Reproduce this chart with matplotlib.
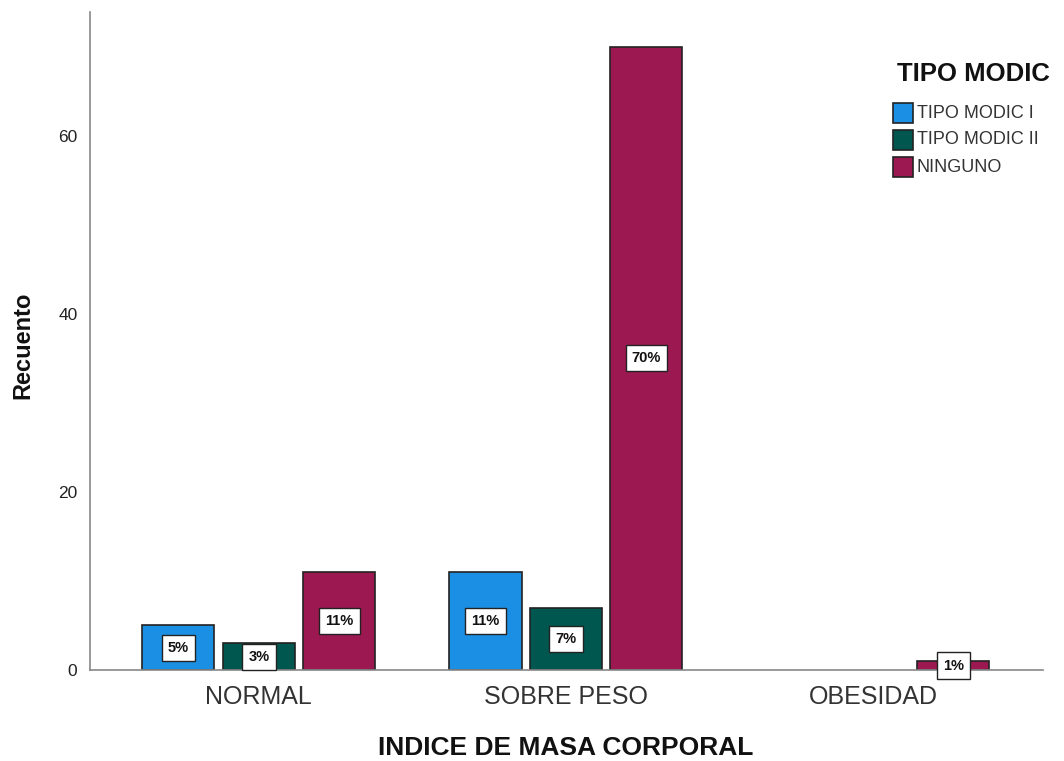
import matplotlib
matplotlib.use("Agg")
import matplotlib.pyplot as plt
import numpy as np
from matplotlib.patches import Rectangle

plt.rcParams['font.family'] = ['Liberation Sans', 'DejaVu Sans']

categories = ["NORMAL", "SOBRE PESO", "OBESIDAD"]
series_names = ["TIPO MODIC I", "TIPO MODIC II", "NINGUNO"]
counts = {
    "TIPO MODIC I": [5, 11, 0],
    "TIPO MODIC II": [3, 7, 0],
    "NINGUNO": [11, 70, 1],
}
percent_labels = {
    "TIPO MODIC I": ["5%", "11%", ""],
    "TIPO MODIC II": ["3%", "7%", ""],
    "NINGUNO": ["11%", "70%", "1%"],
}
legend_title = "TIPO MODIC"
colors = ["#1a8fe3", "#00574f", "#9c1850"]

W, H = 1064, 761
fig = plt.figure(figsize=(W/100, H/100), dpi=100)
ax = fig.add_axes([90/W, 1-670/H, (1043-90)/W, (670-12)/H])

x = np.arange(len(categories))
offsets = [-0.262, 0.0, 0.262]
width = 0.235
for name, off, col in zip(series_names, offsets, colors):
    vals = counts[name]
    for xi, v, lab in zip(x, vals, percent_labels[name]):
        if v <= 0:
            continue
        ax.bar(xi + off, v, width=width, color=col, edgecolor="#222222", linewidth=1.2, zorder=2)
        ax.text(xi + off, v / 2, lab, ha="center", va="center", fontsize=10.5,
                fontweight="bold", color="#111111", zorder=4,
                bbox=dict(boxstyle="square,pad=0.42", facecolor="white", edgecolor="#222222", linewidth=1.0))

ax.set_xlim(-0.55, 2.554)
ax.set_ylim(0, 73.9)
ax.set_yticks([0, 20, 40, 60])
ax.set_xticks(x)
ax.set_xticklabels(categories, fontsize=18, color="#333333")
ax.tick_params(axis="y", length=0, pad=9, labelsize=12.5, labelcolor="#222222")
ax.tick_params(axis="x", length=0, pad=11)
for s in ["top", "right"]:
    ax.spines[s].set_visible(False)
for s in ["left", "bottom"]:
    ax.spines[s].set_color("#888888")
    ax.spines[s].set_linewidth(1.2)

ax.set_ylabel("Recuento", fontsize=17, fontweight="bold", color="#111111")
ax.yaxis.set_label_coords(-0.058, 0.494)
ax.set_xlabel("INDICE DE MASA CORPORAL", fontsize=19, fontweight="bold", color="#111111")
ax.xaxis.set_label_coords(0.4995, -0.100)

# legend drawn manually in figure pixel positions
fig.text(897/W, 1-74/H, legend_title, ha="left", va="center", fontsize=18.5,
         fontweight="bold", color="#111111")
row_y = [113, 140, 167]
for name, col, ry in zip(series_names, colors, row_y):
    fig.patches.append(Rectangle((893/W, 1-(ry+10)/H), 20/W, 20/H, transform=fig.transFigure,
                                 facecolor=col, edgecolor="#222222", linewidth=1.2))
    fig.text(917/W, 1-ry/H, name, ha="left", va="center", fontsize=13, color="#333333")

fig.savefig("out.png", dpi=100, facecolor="white")
